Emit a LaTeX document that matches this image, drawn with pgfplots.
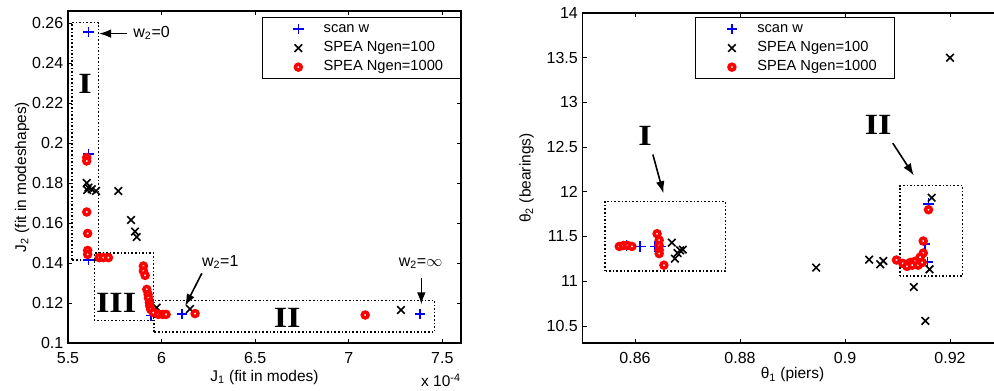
\documentclass[border=0pt]{standalone}
\usepackage{pgfplots}
\pgfplotsset{compat=1.18}
\usepackage{fontspec}
\setmainfont{Liberation Sans}
\newfontfamily\romfont{Liberation Serif}
\usetikzlibrary{arrows.meta}

\pgfplotsset{
 mystyle/.style={
  scale only axis, clip=false,
  axis line style={line width=0.9pt},
  tick style={line width=0.7pt, black},
  major tick length=3pt,
  tick align=inside,
  /pgf/number format/assume math mode=true,
  tick label style={font=\fontsize{12}{14}\selectfont},
  xticklabel style={yshift=-3.5pt},
  label style={font=\fontsize{11.6}{14}\selectfont},
  legend cell align=left,
  legend image code/.code={\path[draw=none,fill=none] (-16pt,0pt) -- (17pt,0pt);
     \draw[#1] plot coordinates {(0pt,0pt)};},
  legend style={font=\fontsize{11}{13}\selectfont, draw=black, line width=0.8pt,
     inner xsep=11pt, inner ysep=1.5pt,
     nodes={text height=8pt, text depth=2.5pt, inner ysep=1.9pt}},
 },
 scanw/.style={only marks, mark=+, blue, mark size=4pt, line width=1.2pt},
 speaA/.style={only marks, mark=x, black, mark size=4pt, line width=1.2pt},
 speaB/.style={only marks, mark=*, red, mark options={draw=red, fill=white, line width=2.6pt}, mark size=2.2pt},
}
\tikzset{
 box/.style={black, line width=1.2pt, dash pattern=on 1.2pt off 1.5pt},
 arr/.style={-{Latex[length=9pt,width=6.5pt]}, line width=1.2pt},
 rom/.style={font={\romfont\bfseries\fontsize{22}{24}\selectfont}},
 ann/.style={font=\fontsize{12}{14}\selectfont, anchor=mid west, inner sep=0pt},
}
\newcommand{\rn}[1]{\scalebox{1.17}[1]{#1}}

\pgfplotstableread{
x y
5.61 0.2555
5.61 0.1945
5.61 0.1415
5.945 0.1138
6.11 0.1145
7.38 0.1145
}\leftscan
\pgfplotstableread{
x y
5.600 0.1800
5.609 0.1777
5.627 0.1769
5.650 0.1760
5.603 0.1765
5.769 0.1760
5.837 0.1615
5.858 0.1557
5.867 0.1530
5.974 0.1177
6.152 0.1170
7.279 0.1165
}\leftA
\pgfplotstableread{
x y
5.600 0.1927
5.600 0.1910
5.600 0.1655
5.605 0.1548
5.605 0.1463
5.605 0.1443
5.667 0.1427
5.689 0.1427
5.716 0.1427
5.903 0.1385
5.903 0.1360
5.912 0.1338
5.921 0.1268
5.928 0.1243
5.930 0.1225
5.935 0.1202
5.937 0.1185
5.942 0.1168
5.956 0.1152
5.983 0.1143
6.006 0.1143
6.024 0.1143
6.179 0.1147
7.088 0.1140
}\leftB
\pgfplotstableread{
x y
0.8584 11.40
0.8610 11.39
0.8638 11.39
0.8648 11.39
0.9159 11.867
0.9152 11.42
0.9157 11.215
}\rightscan
\pgfplotstableread{
x y
0.9200 13.50
0.8670 11.432
0.8686 11.346
0.8681 11.316
0.8676 11.253
0.8691 11.354
0.8945 11.153
0.9046 11.242
0.9067 11.190
0.9073 11.227
0.9131 10.936
0.9153 10.557
0.9161 11.134
0.9165 11.934
}\rightA
\pgfplotstableread{
x y
0.8570 11.39
0.8578 11.40
0.8586 11.40
0.8594 11.39
0.8642 11.532
0.8646 11.46
0.8646 11.40
0.8646 11.35
0.8646 11.31
0.8655 11.18
0.9159 11.80
0.9149 11.45
0.9149 11.316
0.9098 11.238
0.9110 11.20
0.9124 11.21
0.9133 11.223
0.9139 11.18
0.9147 11.21
0.9118 11.167
0.9143 11.27
0.9128 11.18
}\rightB

\begin{document}
\begin{tikzpicture}
\begin{axis}[mystyle, at={(0pt,0pt)}, anchor=south west,
  width=294.75pt, height=249pt,
  xmin=5.5, xmax=7.6, ymin=0.1, ymax=0.266,
  xtick={5.5,6,6.5,7,7.5},
  ytick={0.1,0.12,0.14,0.16,0.18,0.2,0.22,0.24,0.26},
  yticklabels={0.1,0.12,0.14,0.16,0.18,0.2,0.22,0.24,0.26},
  xlabel={J\textsubscript{1} (fit in modes)},
  ylabel={J\textsubscript{2} (fit in modeshapes)},
  xlabel style={at={(axis description cs:0.5,-0.103)}, anchor=center},
  ylabel style={at={(axis description cs:-0.117,0.5)}, anchor=center},
  legend style={at={(1,0.982)}, anchor=north east},
]
\addplot[scanw] table {\leftscan};
\addlegendentry{scan w}
\addplot[speaA] table {\leftA};
\addlegendentry{SPEA Ngen=100}
\addplot[speaB] table {\leftB};
\addlegendentry{SPEA Ngen=1000}
\draw[box] (axis cs:5.520,0.1415) rectangle (axis cs:5.662,0.2602);
\draw[box] (axis cs:5.641,0.1113) rectangle (axis cs:5.956,0.145);
\draw[box] (axis cs:5.958,0.1055) rectangle (axis cs:7.459,0.1213);
\node[rom] at (axis cs:5.591,0.2295) {\rn{I}};
\node[rom] at (axis cs:5.757,0.1200) {\rn{III}};
\node[rom] at (axis cs:6.671,0.1125) {\rn{II}};
\draw[arr] (axis cs:5.816,0.2547) -- (axis cs:5.666,0.2547);
\node[ann] at (axis cs:5.848,0.2545) {w\textsubscript{2}=0};
\draw[arr] (axis cs:6.215,0.1348) -- (axis cs:6.126,0.1185);
\node[ann] at (axis cs:6.215,0.1400) {w\textsubscript{2}=1};
\draw[arr] (axis cs:7.388,0.1323) -- (axis cs:7.388,0.1193);
\node[ann] at (axis cs:7.266,0.1402) {w\textsubscript{2}=$\infty$};
\node[anchor=base east, inner sep=0pt, yshift=-33pt, font=\fontsize{11.6}{14}\selectfont] at (rel axis cs:1,0) {x 10\textsuperscript{-4}};
\end{axis}

\begin{axis}[mystyle, at={(385.9pt,0pt)}, anchor=south west,
  width=315pt, height=247.5pt,
  xmin=0.85, xmax=0.93, ymin=10.31, ymax=14,
  xtick={0.86,0.88,0.9,0.92},
  xticklabels={0.86,0.88,0.9,0.92},
  ytick={10.5,11,11.5,12,12.5,13,13.5,14},
  yticklabels={10.5,11,11.5,12,12.5,13,13.5,14},
  xlabel={θ\textsubscript{1} (piers)},
  ylabel={θ\textsubscript{2} (bearings)},
  xlabel style={at={(axis description cs:0.5,-0.096)}, anchor=center},
  ylabel style={at={(axis description cs:-0.133,0.5)}, anchor=center},
  legend style={at={(0.743,0.988)}, anchor=north east},
]
\addplot[scanw] table {\rightscan};
\addlegendentry{scan w}
\addplot[speaA] table {\rightA};
\addlegendentry{SPEA Ngen=100}
\addplot[speaB] table {\rightB};
\addlegendentry{SPEA Ngen=1000}
\draw[box] (axis cs:0.8543,11.112) rectangle (axis cs:0.8772,11.893);
\draw[box] (axis cs:0.9105,11.056) rectangle (axis cs:0.9224,12.071);
\node[rom] at (axis cs:0.8619,12.624) {\rn{I}};
\node[rom] at (axis cs:0.9063,12.747) {\rn{II}};
\draw[arr] (axis cs:0.8634,12.417) -- (axis cs:0.8654,11.985);
\draw[arr] (axis cs:0.9091,12.544) -- (axis cs:0.9131,12.183);
\end{axis}
\pgfresetboundingbox
\path[use as bounding box] (-51pt,-36pt) rectangle (694.5pt,257.25pt);
\end{tikzpicture}
\end{document}
